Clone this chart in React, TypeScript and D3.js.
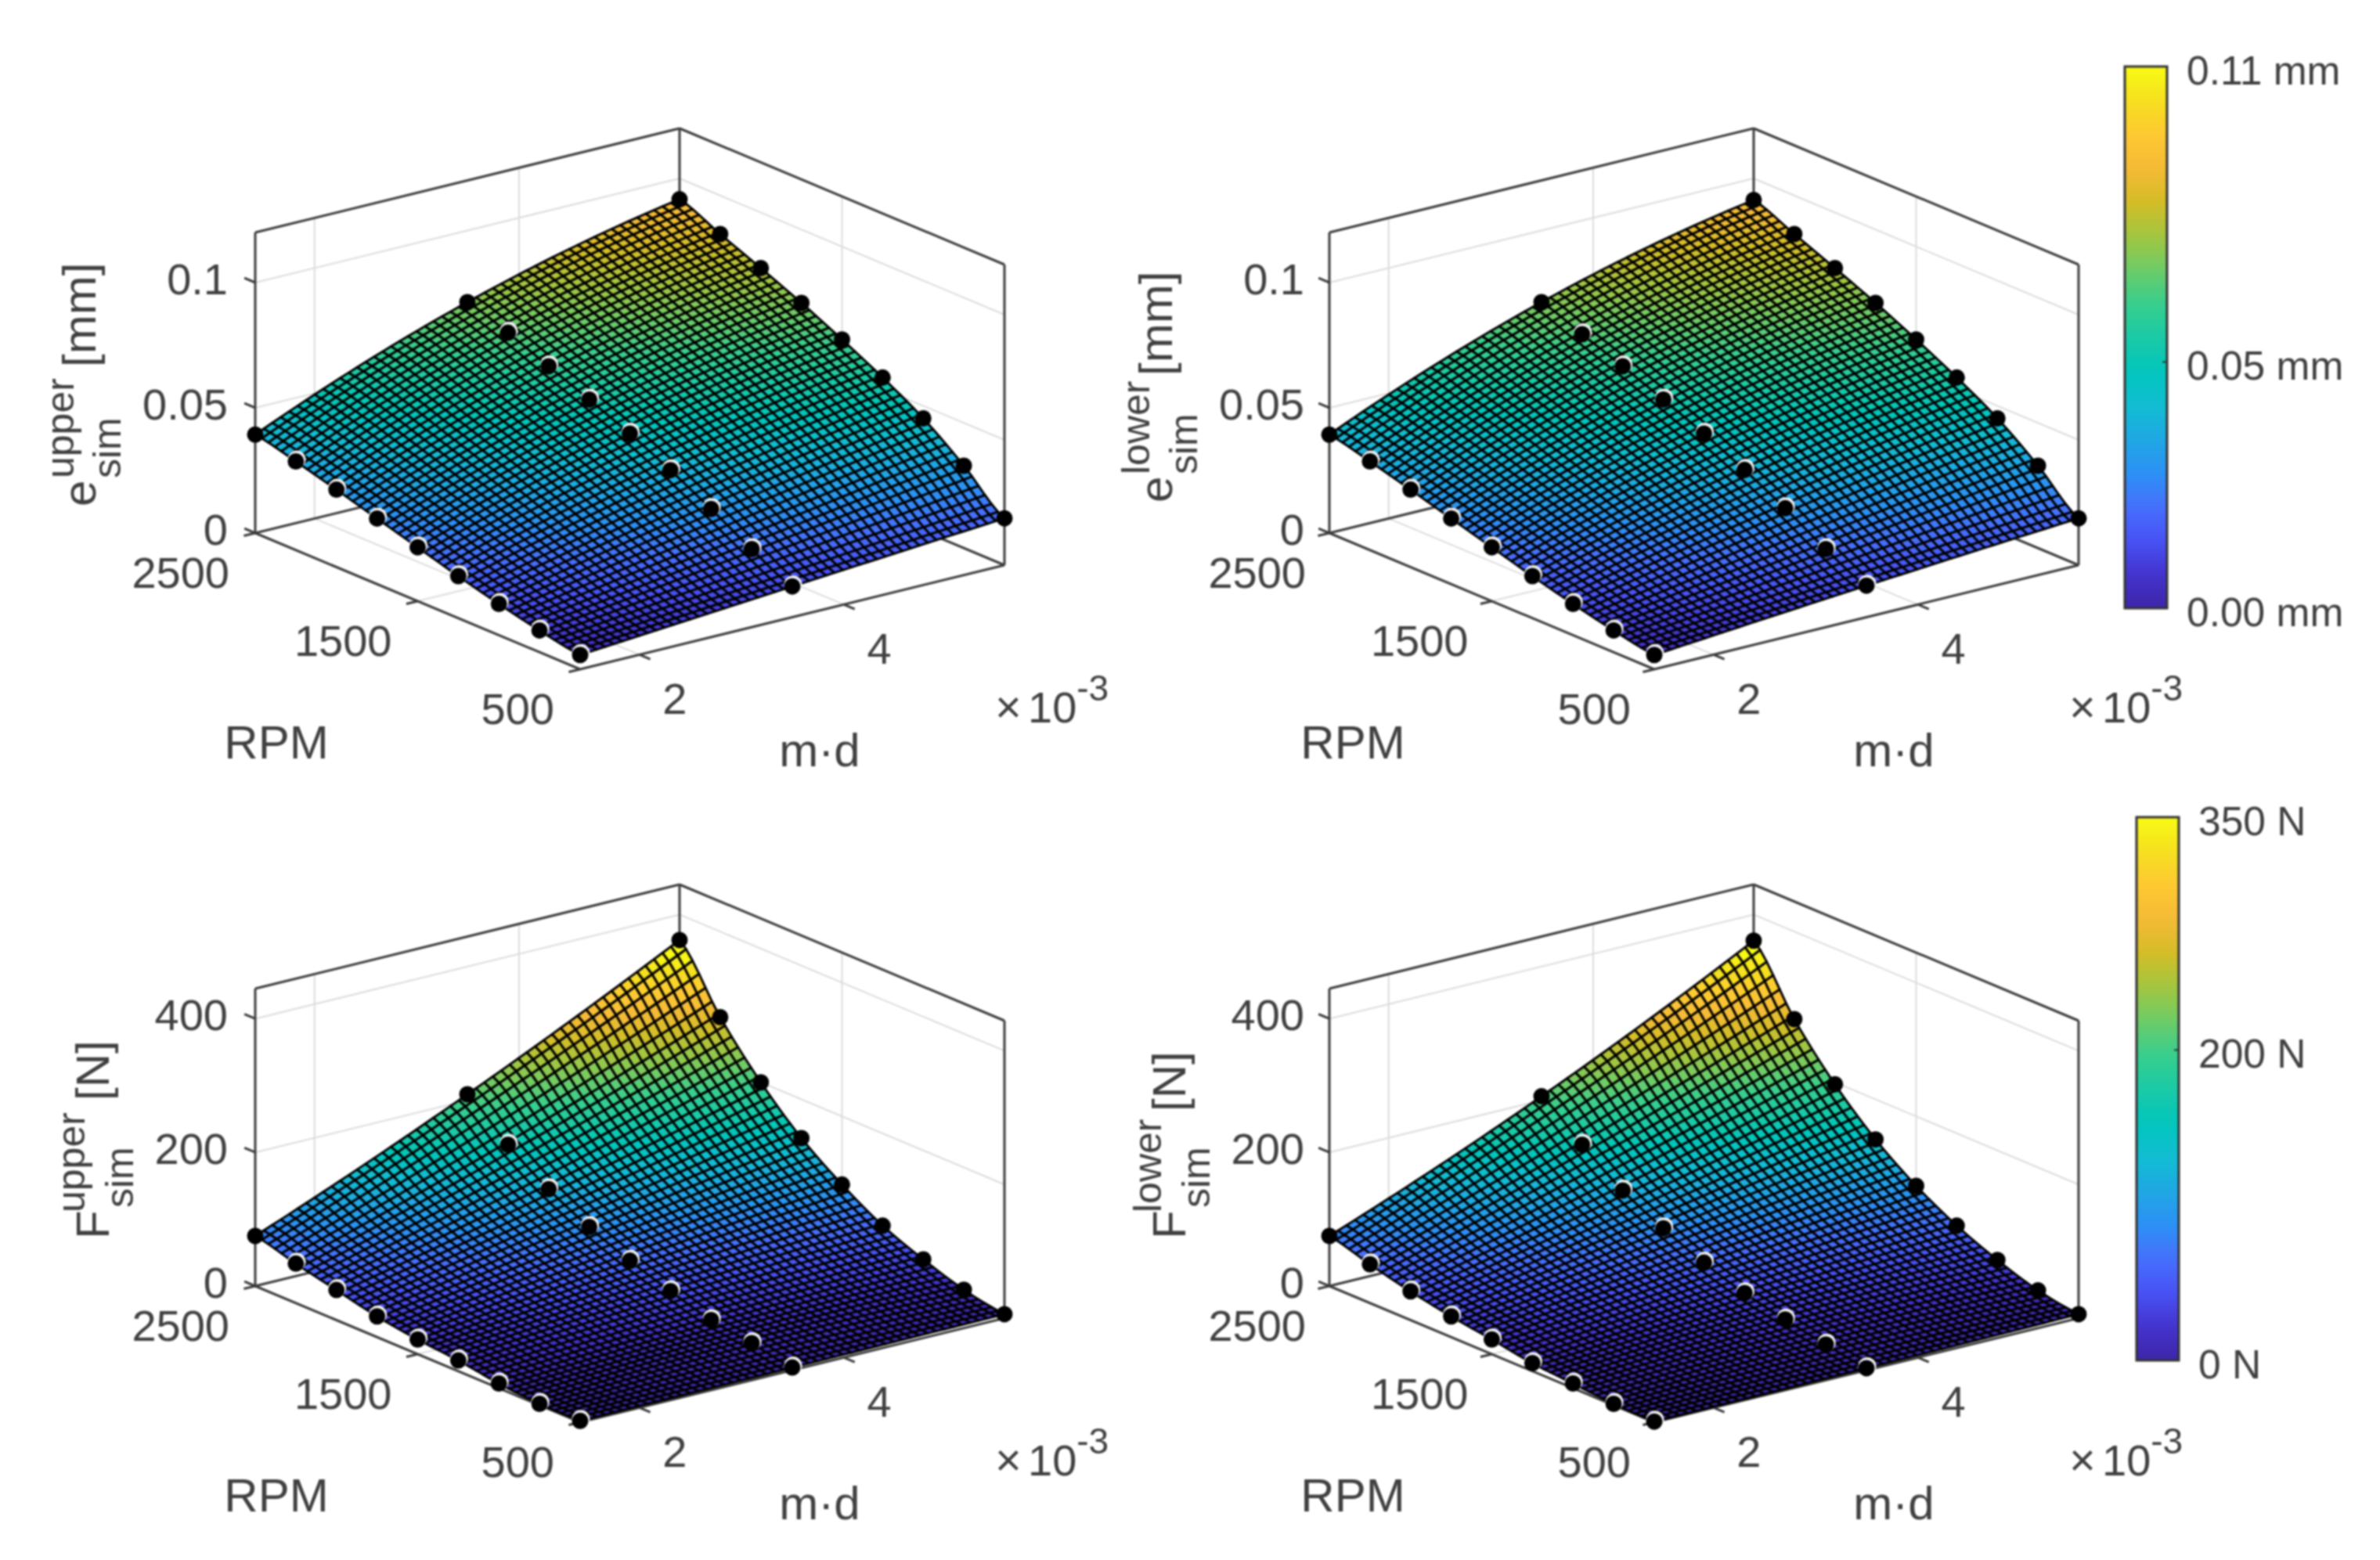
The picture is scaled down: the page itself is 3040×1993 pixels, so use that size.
import React, { useEffect, useRef } from "react";
import * as d3 from "d3";

// grid of the simulated points
const rpmValues = [500, 750, 1000, 1250, 1500, 1750, 2000, 2250, 2500];
const mdValues = [1.42e-3, 3.495e-3, 5.57e-3];

const rpmTicks = [500, 1500, 2500];
const mdTicks = [2e-3, 4e-3];

const eUpperLow = [0.0057, 0.0087, 0.0125, 0.0168, 0.0215, 0.0262, 0.0309, 0.0354, 0.0393];
const eUpperMid = [0.0123, 0.0204, 0.0296, 0.0383, 0.0461, 0.0529, 0.0594, 0.066, 0.0714];
const eUpperHigh = [0.0187, 0.0329, 0.045, 0.0545, 0.0629, 0.0707, 0.0778, 0.0846, 0.0917];

const eLowerLow = [0.0057, 0.0087, 0.0125, 0.0168, 0.0215, 0.0262, 0.0309, 0.0354, 0.0393];
const eLowerMid = [0.0126, 0.0204, 0.0299, 0.0384, 0.0461, 0.0529, 0.0594, 0.0654, 0.0714];
const eLowerHigh = [0.0187, 0.0329, 0.045, 0.0545, 0.0629, 0.0707, 0.0778, 0.0846, 0.0914];

const fUpperLow = [2, 2, 7, 16, 22, 31, 45, 59, 75];
const fUpperMid = [4, 15, 24, 42, 62, 87, 118, 159, 209];
const fUpperHigh = [6, 17, 37, 62, 98, 142, 200, 272, 362];

const fLowerLow = [1, 2, 7, 12, 22, 31, 43, 58, 75];
const fLowerMid = [3, 13, 25, 39, 59, 85, 116, 159, 206];
const fLowerHigh = [6, 16, 36, 62, 96, 140, 197, 269, 361];

const eTicks = [0, 0.05, 0.1];
const fTicks = [0, 200, 400];
const eBarTicks = ["0.00 mm", "0.05 mm", "0.11 mm"];
const fBarTicks = ["0 N", "200 N", "350 N"];

const parula = [
  "#3e26a8", "#4433ce", "#4852f4", "#4670fd", "#2c91f5", "#1fa8e4", "#12bdd2", "#01c6bc",
  "#1bcaa6", "#37cf8e", "#6dcc67", "#a3c640", "#d4bd27", "#f5ba36", "#fec932", "#f5e01f", "#f9fb15",
];

const font = "'Liberation Sans', Arial, sans-serif";
const textColor = "#404040";
const lineColor = "#3c3c3c";
const gridColor = "#dcdcdc";

const boxF = [741, 855];
const boxR = [1283, 722];
const boxL = [326, 681];
const meshCells = 50;

const colorAt = d3
  .scaleLinear<string>()
  .domain(parula.map((_, i) => i / (parula.length - 1)))
  .range(parula)
  .interpolate(d3.interpolateRgb)
  .clamp(true);

// smooth path through the read values along rpm
const alongRpm = (values: number[], t: number) => {
  const p = t * (values.length - 1);
  const i = Math.min(Math.floor(p), values.length - 2);
  const f = p - i;
  const p0 = values[Math.max(i - 1, 0)];
  const p1 = values[i];
  const p2 = values[i + 1];
  const p3 = values[Math.min(i + 2, values.length - 1)];
  return (
    0.5 *
    (2 * p1 + (p2 - p0) * f + (2 * p0 - 5 * p1 + 4 * p2 - p3) * f * f + (3 * p1 - p0 - 3 * p2 + p3) * f * f * f)
  );
};

// the drawn mesh between the three m·d columns
const surfaceAt = (cols: number[][], s: number, t: number) => {
  const a = alongRpm(cols[0], t);
  const b = alongRpm(cols[1], t);
  const c = alongRpm(cols[2], t);
  return a * (2 * s - 1) * (s - 1) + b * 4 * s * (1 - s) + c * s * (2 * s - 1);
};

const panels = [
  {
    cols: [eUpperLow, eUpperMid, eUpperHigh], zMax: 0.12, boxHeight: 384, cMax: 0.11, zTicks: eTicks,
    dx: 0, dy: 0, sym: "e", sup: "upper", unit: "[mm]",
    lab: { main: [122, 647], sup: [93.5, 611], sub: [154, 611], unit: [122, 469] },
  },
  {
    cols: [eLowerLow, eLowerMid, eLowerHigh], zMax: 0.12, boxHeight: 384, cMax: 0.11, zTicks: eTicks,
    dx: 1372, dy: 0, sym: "e", sup: "lower", unit: "[mm]",
    lab: { main: [1497, 642], sup: [1468, 606], sub: [1529, 606], unit: [1497, 480] },
  },
  {
    cols: [fUpperLow, fUpperMid, fUpperHigh], zMax: 445, boxHeight: 380, cMax: 350, zTicks: fTicks,
    dx: 0, dy: 962, sym: "F", sup: "upper", unit: "[N]",
    lab: { main: [139, 1583], sup: [108, 1549], sub: [170, 1543], unit: [139, 1406] },
  },
  {
    cols: [fLowerLow, fLowerMid, fLowerHigh], zMax: 445, boxHeight: 380, cMax: 350, zTicks: fTicks,
    dx: 1372, dy: 962, sym: "F", sup: "lower", unit: "[N]",
    lab: { main: [1514, 1583], sup: [1483, 1549], sub: [1545, 1543], unit: [1514, 1420] },
  },
];

const colorbars = [
  { x: 2714, y0: 85, y1: 777, w: 54, maxVal: 0.11, tickVals: [0, 0.05, 0.11], labels: eBarTicks, labelX: 2793, id: "barE" },
  { x: 2729, y0: 1044, y1: 1738, w: 54, maxVal: 350, tickVals: [0, 200, 350], labels: fBarTicks, labelX: 2808, id: "barF" },
];

const drawPanel = (root: any, p: (typeof panels)[number]) => {
  const g = root.append("g");
  const uScale = d3.scaleLinear().domain([mdValues[0], mdValues[2]]).range([0, 1]);
  const vScale = d3.scaleLinear().domain([500, 2500]).range([0, 1]);
  const zScale = d3.scaleLinear().domain([0, p.zMax]).range([0, p.boxHeight]);
  const color = d3.scaleLinear().domain([0, p.cMax]).range([0, 1]).clamp(true);

  // u, v in 0..1, z in data units
  const project = (u: number, v: number, z: number): [number, number] => [
    p.dx + boxF[0] + u * (boxR[0] - boxF[0]) + v * (boxL[0] - boxF[0]),
    p.dy + boxF[1] + u * (boxR[1] - boxF[1]) + v * (boxL[1] - boxF[1]) - zScale(z),
  ];

  const seg = (a: [number, number], b: [number, number], stroke: string, width: number) =>
    g.append("line")
      .attr("x1", a[0]).attr("y1", a[1]).attr("x2", b[0]).attr("y2", b[1])
      .attr("stroke", stroke).attr("stroke-width", width);

  const label = (x: number, y: number, str: string, size: number, anchor = "middle") =>
    g.append("text")
      .attr("x", x).attr("y", y)
      .attr("font-family", font).attr("font-size", size).attr("fill", textColor)
      .attr("text-anchor", anchor).text(str);

  // gridlines on the walls and floor
  mdTicks.forEach((m) => {
    const u = uScale(m);
    seg(project(u, 1, 0), project(u, 1, p.zMax), gridColor, 2);
    seg(project(u, 0, 0), project(u, 1, 0), gridColor, 2);
  });
  rpmTicks.slice(1, 2).forEach((r) => {
    const v = vScale(r);
    seg(project(1, v, 0), project(1, v, p.zMax), gridColor, 2);
    seg(project(0, v, 0), project(1, v, 0), gridColor, 2);
  });
  p.zTicks.slice(1).forEach((z) => {
    seg(project(0, 1, z), project(1, 1, z), gridColor, 2);
    seg(project(1, 1, z), project(1, 0, z), gridColor, 2);
  });

  // box
  const corners = [[0, 1, 0], [0, 0, 0], [1, 0, 0], [1, 1, 0], [0, 1, 0]];
  d3.pairs(corners).forEach(([a, b]) =>
    seg(project(a[0], a[1], a[2]), project(b[0], b[1], b[2]), lineColor, 3));
  seg(project(0, 1, 0), project(0, 1, p.zMax), lineColor, 3);
  seg(project(1, 1, 0), project(1, 1, p.zMax), lineColor, 3);
  seg(project(1, 0, 0), project(1, 0, p.zMax), lineColor, 3);
  seg(project(0, 1, p.zMax), project(1, 1, p.zMax), lineColor, 3);
  seg(project(1, 1, p.zMax), project(1, 0, p.zMax), lineColor, 3);

  // ticks and tick labels
  const tickLen = 15;
  const uDir = [boxR[0] - boxF[0], boxR[1] - boxF[1]];
  const vDir = [boxL[0] - boxF[0], boxL[1] - boxF[1]];
  const uNorm = Math.hypot(uDir[0], uDir[1]);
  const vNorm = Math.hypot(vDir[0], vDir[1]);

  p.zTicks.forEach((z) => {
    const a = project(0, 1, z);
    seg(a, [a[0] + (vDir[0] / vNorm) * tickLen, a[1] + (vDir[1] / vNorm) * tickLen], lineColor, 3);
    label(a[0] - 35 + (p.dx ? 3 : 0), a[1] + 15, `${z}`, 56, "end");
  });
  rpmTicks.forEach((r) => {
    const a = project(0, vScale(r), 0);
    seg(a, [a[0] - (uDir[0] / uNorm) * tickLen, a[1] - (uDir[1] / uNorm) * tickLen], lineColor, 3);
    label(a[0] - 33 + (p.dx ? 3 : 0), a[1] + 70, `${r}`, 56, "end");
  });
  mdTicks.forEach((m) => {
    const a = project(uScale(m), 0, 0);
    seg(a, [a[0] - (vDir[0] / vNorm) * tickLen, a[1] - (vDir[1] / vNorm) * tickLen], lineColor, 3);
    label(a[0] + 45, a[1] + 76, `${m * 1000}`, 56);
  });

  label(p.dx + 1271, p.dy + 923, "×", 58, "start");
  const expText = label(p.dx + 1313, p.dy + 923, "10", 56, "start");
  expText.append("tspan").attr("font-size", 46).attr("dy", -28).text("-3");

  label(p.dx + 353 + (p.dx ? 3 : 0), p.dy + 969, "RPM", 60);
  label(p.dx + 1047, p.dy + 979, "m·d", 60);

  // rotated z label
  const vert = (pos: number[], str: string, size: number) =>
    g.append("text")
      .attr("transform", `translate(${pos[0]},${pos[1]}) rotate(-90)`)
      .attr("font-family", font).attr("font-size", size).attr("fill", textColor).text(str);
  vert(p.lab.main, p.sym, 60);
  vert(p.lab.sup, p.sup, 50);
  vert(p.lab.sub, "sim", 50);
  vert(p.lab.unit, p.unit, 60);

  // surface
  const steps = d3.range(meshCells).map((i) => i / meshCells);
  const h = 1 / meshCells;
  const cellLine = d3.line();
  const cells = steps.flatMap((s) => steps.map((t) => ({ s, t })));
  g.append("g")
    .selectAll("path")
    .data(cells)
    .join("path")
    .attr("d", ({ s, t }) => {
      const pts = [[s, t], [s + h, t], [s + h, t + h], [s, t + h]].map(([a, b]) =>
        project(a, b, surfaceAt(p.cols, a, b)));
      return cellLine(pts) + "Z";
    })
    .attr("fill", ({ s, t }) => colorAt(color(surfaceAt(p.cols, s + h / 2, t + h / 2))))
    .attr("stroke", "#000")
    .attr("stroke-width", 2.9)
    .attr("stroke-linejoin", "round");

  // simulated points
  const markers = mdValues.flatMap((m, mi) =>
    rpmValues.map((r, ri) => ({ mi, ri, pos: project(uScale(m), vScale(r), p.cols[mi][ri]) })));
  const halo = markers.filter((d) => d.mi < 2 && d.ri < rpmValues.length - 1);
  g.append("g")
    .selectAll("circle")
    .data(halo)
    .join("circle")
    .attr("cx", (d) => d.pos[0] + 1)
    .attr("cy", (d) => d.pos[1] - 2.5)
    .attr("r", 11.5)
    .attr("fill", "#f2f2f2");
  g.append("g")
    .selectAll("circle")
    .data(markers)
    .join("circle")
    .attr("cx", (d) => d.pos[0])
    .attr("cy", (d) => d.pos[1])
    .attr("r", 10.5)
    .attr("fill", "#000");
};

const drawColorbar = (root: any, defs: any, c: (typeof colorbars)[number]) => {
  const grad = defs.append("linearGradient").attr("id", c.id).attr("x1", 0).attr("x2", 0).attr("y1", 1).attr("y2", 0);
  d3.range(0, 1.0001, 1 / 40).forEach((t) => {
    grad.append("stop").attr("offset", t).attr("stop-color", colorAt(t));
  });
  const y = d3.scaleLinear().domain([0, c.maxVal]).range([c.y1, c.y0]);
  root.append("rect")
    .attr("x", c.x).attr("y", c.y0).attr("width", c.w).attr("height", c.y1 - c.y0)
    .attr("fill", `url(#${c.id})`).attr("stroke", "#333").attr("stroke-width", 3);
  c.tickVals.forEach((v, i) => {
    root.append("line")
      .attr("x1", c.x + c.w - 6).attr("x2", c.x + c.w).attr("y1", y(v)).attr("y2", y(v))
      .attr("stroke", "#333").attr("stroke-width", 2);
    root.append("text")
      .attr("x", c.labelX).attr("y", y(v) + 23)
      .attr("font-family", font).attr("font-size", 51.5).attr("fill", textColor)
      .text(c.labels[i]);
  });
};

const App = () => {
  const svgRef = useRef<SVGSVGElement>(null);

  useEffect(() => {
    const svg = d3.select(svgRef.current);
    svg.selectAll("*").remove();
    const defs = svg.append("defs");
    const root = svg.append("g").style("filter", "blur(1px)");
    panels.forEach((p) => drawPanel(root, p));
    colorbars.forEach((c) => drawColorbar(root, defs, c));
  }, []);

  return (
    <svg
      ref={svgRef}
      width={3040}
      height={1993}
      style={{ position: "absolute", left: 0, top: 0, background: "#fff" }}
    />
  );
};

export default App;
